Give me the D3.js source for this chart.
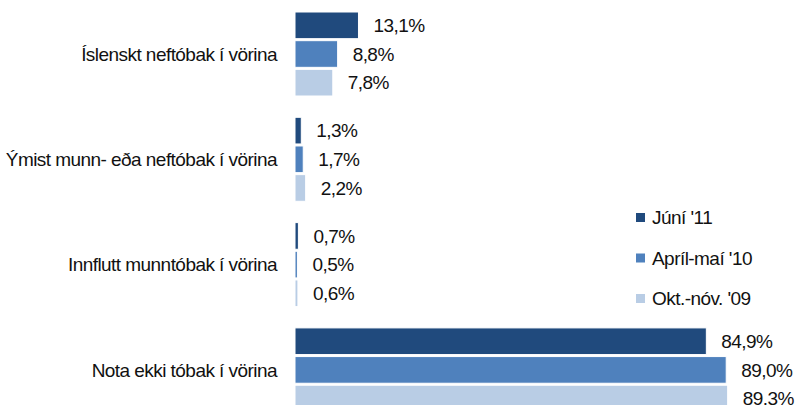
<!DOCTYPE html>
<html><head><meta charset="utf-8">
<script src="https://cdn.jsdelivr.net/npm/d3@7"></script>
<style>
html,body{margin:0;padding:0;background:#fff;}
text{font-family:"Liberation Sans",Arial,sans-serif;font-size:19px;fill:#111;letter-spacing:-0.55px;}
</style></head>
<body><svg id="c" width="796" height="405"></svg>
<script>
const categories = ["Íslenskt neftóbak í vörina","Ýmist munn- eða neftóbak í vörina","Innflutt munntóbak í vörina","Nota ekki tóbak í vörina"];
const seriesNames = ["Júní '11","Apríl-maí '10","Okt.-nóv. '09"];
const juni11 = [13.1, 1.3, 0.7, 84.9];
const april10 = [8.8, 1.7, 0.5, 89.0];
const okt09 = [7.8, 2.2, 0.6, 89.3];
const valueLabels = [["13,1%","1,3%","0,7%","84,9%"],["8,8%","1,7%","0,5%","89,0%"],["7,8%","2,2%","0,6%","89.3%"]];
const colors = ["#204a7d","#4f81bd","#b9cde5"];

const series = [juni11, april10, okt09];
const svg = d3.select("#c");
const x = d3.scaleLinear().domain([0,100]).range([295, 779.5]);
const y = d3.scaleBand().domain(categories).range([12, 12+105.3*4]).paddingInner(0).paddingOuter(0);
const yi = d3.scaleBand().domain(d3.range(3)).range([0, 84]).paddingInner(0.07);

const g = svg.append("g");
categories.forEach((c, ci) => {
  const grp = g.append("g").attr("transform", `translate(0,${y(c)})`);
  series.forEach((s, si) => {
    grp.append("rect")
      .attr("x", x(0)).attr("y", yi(si))
      .attr("width", x(s[ci]) - x(0)).attr("height", yi.bandwidth())
      .attr("fill", colors[si]).attr("stroke", "#fff").attr("stroke-width", 1);
    grp.append("text")
      .attr("x", x(s[ci]) + 15).attr("y", yi(si) + yi.bandwidth()/2)
      .attr("dy", "0.35em").text(valueLabels[si][ci]);
  });
  grp.append("text").attr("x", 277).attr("y", yi(1) + yi.bandwidth()/2)
    .attr("dy", "0.35em").attr("text-anchor", "end").text(c);
});

const leg = svg.append("g");
seriesNames.forEach((n, i) => {
  const ly = 217.5 + i * 40.5;
  leg.append("rect").attr("x", 636).attr("y", ly - 4.5).attr("width", 9).attr("height", 9).attr("fill", colors[i]);
  leg.append("text").attr("x", 652).attr("y", ly).attr("dy", "0.35em").text(n);
});
</script></body></html>
